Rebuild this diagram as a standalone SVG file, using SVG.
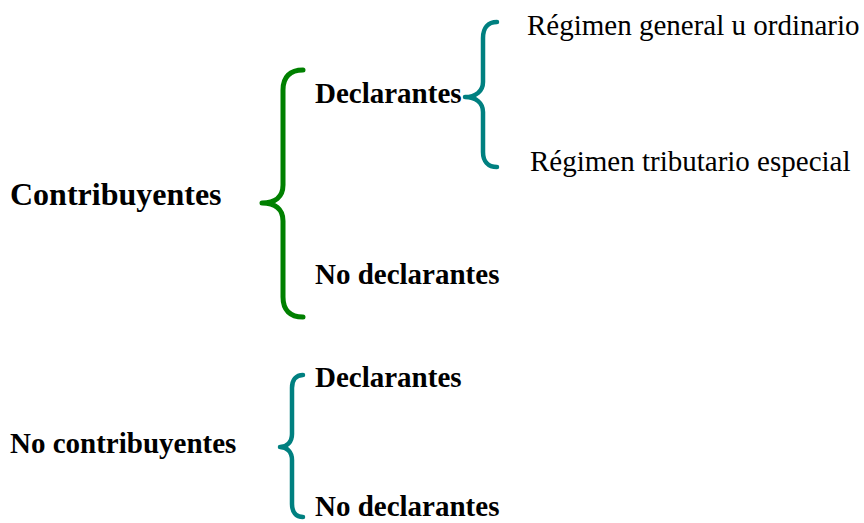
<svg xmlns="http://www.w3.org/2000/svg" width="864" height="523" viewBox="0 0 864 523">
  <style>
    .b { font-family: "Liberation Serif", "Times New Roman", serif; font-weight: bold; fill: #000; }
    .r { font-family: "Liberation Serif", "Times New Roman", serif; fill: #000; }
    .brace { fill: none; stroke-linecap: round; stroke-linejoin: round; }
    .green { stroke: #008000; stroke-width: 5; }
    .teal { stroke: #008080; stroke-width: 4.5; }
  </style>
  <rect width="864" height="523" fill="#fff"/>

  <g id="connectors">
    <path class="brace green" d="M303,70 C290,70 283,77 283,90 L283,185 C283,197 275,203 262,203 C275,203 283,209 283,221 L283,297 C283,310 290,317 303,317"/>
    <path class="brace teal" d="M497,22 C488,22 483,28 483,38 L483,82 C483,91 476,97 465,97 C476,97 483,103 483,112 L483,152 C483,161 488,167 497,167"/>
    <path class="brace teal" d="M303,375 C296,375 292,380 292,388 L292,434 C292,442 287,447 280,447 C287,447 292,452 292,460 L292,504 C292,512 296,517 303,517"/>
  </g>

  <g id="contribuyentes"><text class="b" x="10" y="205" font-size="32">Contribuyentes</text></g>
  <g id="declarantes-1"><text class="b" x="315" y="103" font-size="29">Declarantes</text></g>
  <g id="regimen-general"><text class="r" x="527" y="35" font-size="29">Régimen general u ordinario</text></g>
  <g id="regimen-especial"><text class="r" x="530" y="171" font-size="29">Régimen tributario especial</text></g>
  <g id="no-declarantes-1"><text class="b" x="315" y="284" font-size="29">No declarantes</text></g>
  <g id="no-contribuyentes"><text class="b" x="10" y="453" font-size="29">No contribuyentes</text></g>
  <g id="declarantes-2"><text class="b" x="315" y="387" font-size="29">Declarantes</text></g>
  <g id="no-declarantes-2"><text class="b" x="315" y="516" font-size="29">No declarantes</text></g>
</svg>
